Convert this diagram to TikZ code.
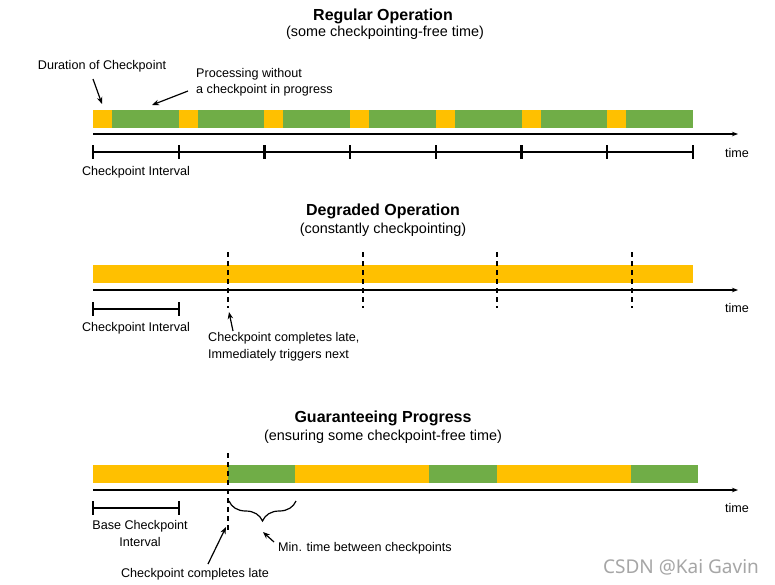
\documentclass[tikz,border=0pt]{standalone}
\usepackage{fontspec}
\setmainfont{Liberation Sans}
\newfontfamily\wmfont{Noto Sans}
\usetikzlibrary{arrows.meta,decorations.pathreplacing}
\definecolor{cpyellow}{RGB}{255,192,0}
\definecolor{cpgreen}{RGB}{112,173,71}
\tikzset{
  titletext/.style={inner sep=0pt,font=\fontsize{16}{19}\selectfont\bfseries},
  subtext/.style={inner sep=0pt,font=\fontsize{14.4}{17}\selectfont},
  lbl/.style={inner sep=0pt,font=\fontsize{12.6}{16.5}\selectfont},
  timeaxis/.style={line width=1.2pt,-{Stealth[length=6pt,width=4.5pt]}},
  intline/.style={line width=1.5pt},
  tickmark/.style={line width=2.2pt},
  dashmark/.style={line width=1.8pt,dash pattern=on 5pt off 4pt},
  annarrow/.style={line width=1.2pt,-{Stealth[length=7pt,width=5.5pt]}},
  ybar/.style={fill=cpyellow},
  gbar/.style={fill=cpgreen},
}
\begin{document}
\begin{tikzpicture}[x=1pt,y=-1pt]
\useasboundingbox[fill=white] (0,0) rectangle (775,584);

% ---------------- Regular operation ----------------
\node[titletext] (t1) at (383,16) {Regular Operation};
\node[subtext] (s1) at (385,33) {(some checkpointing-free time)};
\foreach \i in {0,...,6} {
  \pgfmathsetmacro{\xa}{93+\i*85.714}
  \fill[ybar] (\xa,110) rectangle ({\xa+19},128);
  \fill[gbar] ({\xa+19},110) rectangle ({\xa+85.714},128);
}
\coordinate (a1s) at (93,134);
\coordinate (a1e) at (738,134);
\draw[timeaxis] (a1s) -- (a1e);
\coordinate (i1s) at (93,152);
\coordinate (i1e) at (693,152);
\draw[intline] (i1s) -- (i1e);
\foreach \i in {0,...,7} {
  \draw[tickmark] ({93+\i*85.714},145) -- ({93+\i*85.714},159);
}
\node[lbl] (time1) at (737,153) {time};
\node[lbl] (ci1) at (136,172) {Checkpoint Interval};
\node[lbl] (dur) at (102,66) {Duration of Checkpoint};
\node[lbl,align=left,anchor=west] (proc) at (196,82) {Processing without\\a checkpoint in progress};
\coordinate (durtail) at (93,79);
\coordinate (durhead) at (102,104);
\coordinate (proctail) at (188,91);
\coordinate (prochead) at (152,105);
\draw[annarrow] (durtail) -- (durhead);
\draw[annarrow] (proctail) -- (prochead);

% ---------------- Degraded operation ----------------
\node[titletext] (t2) at (383,211) {Degraded Operation};
\node[subtext] (s2) at (383,230) {(constantly checkpointing)};
\fill[ybar] (93,265) rectangle (693,283);
\coordinate (a2s) at (93,290);
\coordinate (a2e) at (738,290);
\draw[timeaxis] (a2s) -- (a2e);
\foreach \x in {228,363,497,632} {
  \draw[dashmark] (\x,252) -- (\x,308);
}
\coordinate (i2s) at (93,309);
\coordinate (i2e) at (179,309);
\draw[intline] (i2s) -- (i2e);
\draw[tickmark] (93,302) -- (93,316);
\draw[tickmark] (179,302) -- (179,316);
\node[lbl] (time2) at (737,308) {time};
\node[lbl] (ci2) at (136,328) {Checkpoint Interval};
\node[lbl,align=left,anchor=west] (late2) at (208,346.5) {Checkpoint completes late,\\Immediately triggers next};
\coordinate (l2tail) at (233,331);
\coordinate (l2head) at (229,312);
\draw[annarrow] (l2tail) -- (l2head);

% ---------------- Guaranteeing progress ----------------
\node[titletext] (t3) at (383,418) {Guaranteeing Progress};
\node[subtext] (s3) at (383,437) {(ensuring some checkpoint-free time)};
\fill[ybar] (93,465) rectangle (228,483);
\fill[gbar] (228,465) rectangle (295,483);
\fill[ybar] (295,465) rectangle (429,483);
\fill[gbar] (429,465) rectangle (497,483);
\fill[ybar] (497,465) rectangle (631,483);
\fill[gbar] (631,465) rectangle (698,483);
\coordinate (a3s) at (93,490);
\coordinate (a3e) at (738,490);
\draw[timeaxis] (a3s) -- (a3e);
\draw[dashmark] (228,453) -- (228,531);
\coordinate (i3s) at (93,508);
\coordinate (i3e) at (179,508);
\draw[intline] (i3s) -- (i3e);
\draw[tickmark] (93,501) -- (93,515);
\draw[tickmark] (179,501) -- (179,515);
\node[lbl] (time3) at (737,508) {time};
\node[lbl,align=center] (ci3) at (140,533.5) {Base Checkpoint\\Interval};
\coordinate (bs) at (229,501);
\coordinate (be) at (296,501);
\draw[line width=1.2pt,decorate,decoration={brace,mirror,amplitude=20pt,aspect=0.5}] (bs) -- (be);
\node[lbl,anchor=west] (mint) at (278,548) {Min. time between checkpoints};
\coordinate (mtail) at (274,542);
\coordinate (mhead) at (263,532);
\draw[annarrow] (mtail) -- (mhead);
\node[lbl] (late3) at (195,574) {Checkpoint completes late};
\coordinate (l3tail) at (208,564);
\coordinate (l3head) at (226,527);
\draw[annarrow] (l3tail) -- (l3head);

% watermark
\node[inner sep=0pt,text=black!35,font=\wmfont\fontsize{19}{22}\selectfont] (wm) at (681,567) {CSDN @Kai Gavin};
\end{tikzpicture}
\end{document}
